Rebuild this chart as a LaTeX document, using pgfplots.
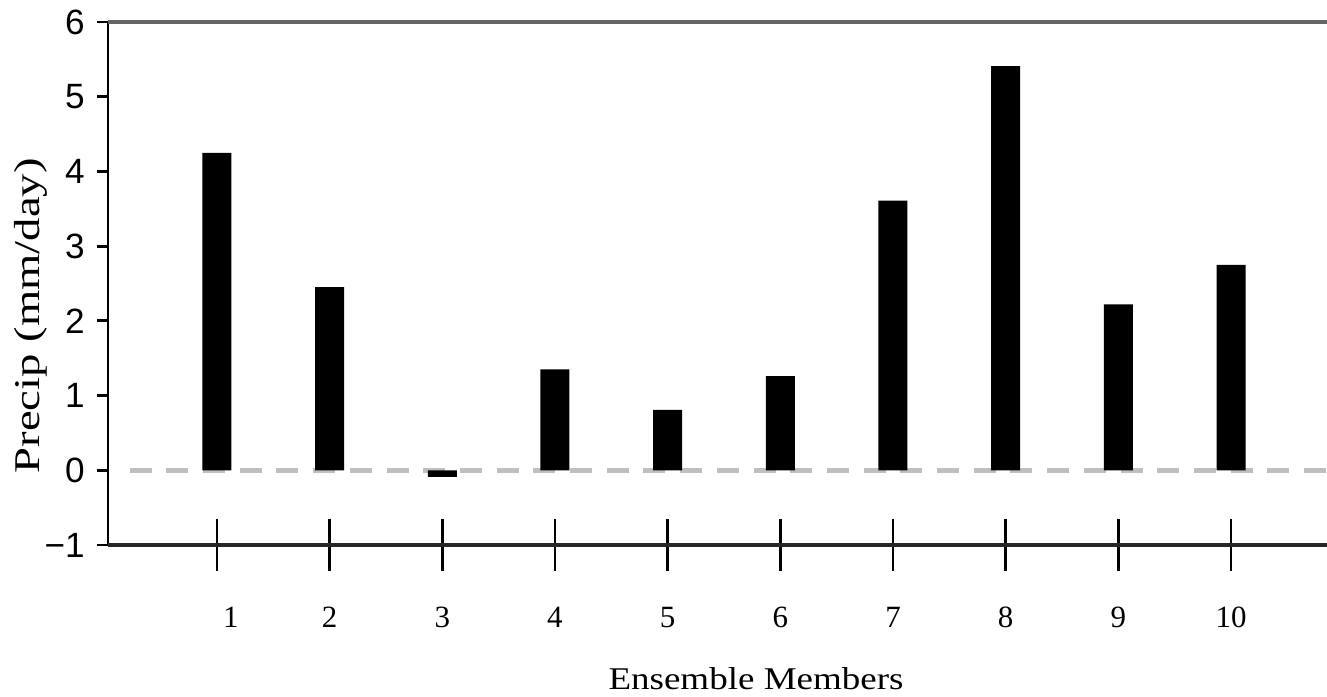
\documentclass[border=0pt]{standalone}
\usepackage{fontspec}
\setmainfont{Liberation Serif}
\setsansfont{Liberation Sans}
\usepackage{graphicx}
\usepackage{pgfplots}
\pgfplotsset{compat=1.18}
\begin{document}
\begin{tikzpicture}[x=1mm,y=1mm]
\useasboundingbox (-10.8,-15.2) rectangle (121.9,54.5);
% axis A: bars, y axis
\begin{axis}[
  at={(0,0)}, anchor=south west,
  width=121.9mm, height=52.3mm, scale only axis,
  xmin=0.033, xmax=10.852, ymin=-1, ymax=6,
  axis x line=none, axis y line*=left,
  y axis line style={line width=0.8pt, black},
  ytick={-1,0,1,2,3,4,5,6},
  yticklabels={−1,0,1,2,3,4,5,6},
  ytick align=outside, major tick length=1.1mm,
  ytick style={line width=0.8pt, black},
  yticklabel style={font=\sffamily\fontsize{10}{12}\selectfont},
  ylabel={\scalebox{1.29}[1]{Precip (mm/day)}},
  ylabel style={font=\fontsize{10.3}{12}\selectfont, at={(axis description cs:-0.0632,0.438)}, anchor=center},
  clip=false,
]
\addplot[draw=black!25, line width=1.4pt, dash pattern=on 2.2mm off 1.47mm, dash phase=2.2mm]
  coordinates {(0.095,0) (10.852,0)};
\addplot[ybar, bar width=2.9mm, bar shift=0pt, fill=black, draw=none]
  coordinates {(1,4.25) (2,2.45) (3,-0.09) (4,1.35) (5,0.81) (6,1.26) (7,3.61) (8,5.41) (9,2.22) (10,2.75)};
\draw[black!60, line width=1.4pt] (axis description cs:0,1) -- (axis description cs:1,1);
\end{axis}
% axis B: x axis with centred ticks
\begin{axis}[
  at={(0,0)}, anchor=south west,
  width=121.9mm, height=52.3mm, scale only axis,
  xmin=0.033, xmax=10.852, ymin=-1, ymax=6,
  axis y line=none, axis x line*=bottom,
  x axis line style={line width=1pt, black!85},
  xtick={1,2,3,4,5,6,7,8,9,10},
  xticklabels={\hspace*{2.8mm}1,2,3,4,5,6,7,8,9,10},
  xtick align=center, major tick length=5.2mm,
  xtick style={line width=0.8pt, black},
  xticklabel style={font=\fontsize{8.8}{10}\selectfont, anchor=base, yshift=-5.7mm},
  xlabel={\scalebox{1.17}[1]{Ensemble Members}},
  xlabel style={font=\fontsize{9}{11}\selectfont, at={(axis description cs:0.5316,-0.2772)}, anchor=base},
  clip=false,
]
\end{axis}
\end{tikzpicture}
\end{document}
